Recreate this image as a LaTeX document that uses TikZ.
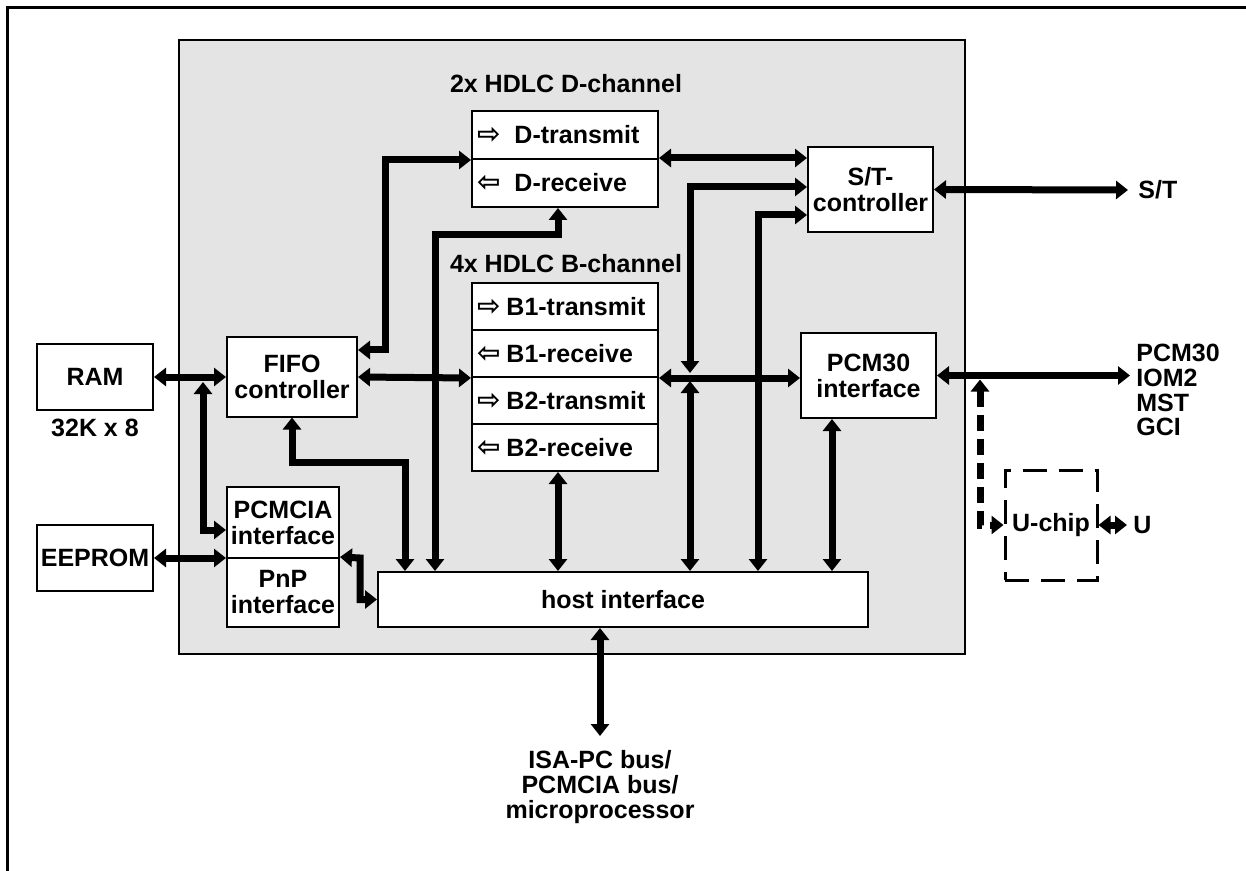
\documentclass[tikz,border=0pt]{standalone}
\usepackage{fontspec}
\setmainfont{Liberation Sans}
\newfontfamily\arrowfont{DejaVu Sans}
\usetikzlibrary{arrows.meta}
\definecolor{chip}{RGB}{228,228,228}
\newcommand{\txarrow}{{\arrowfont\fontsize{14}{13}\selectfont ⇨}\hspace{3pt}}
\newcommand{\rxarrow}{{\arrowfont\fontsize{14}{13}\selectfont ⇦}\hspace{3pt}}

\begin{document}
\begin{tikzpicture}[
    x=0.5pt, y=-0.5pt,
    every node/.style={font=\fontsize{12.5}{13}\selectfont\bfseries},
    block/.style={draw, line width=1pt, fill=white, align=center, inner sep=0pt},
    channel/.style={block, align=left, text width=88pt, inner xsep=2.5pt},
    txt/.style={inner sep=0pt},
    bus/.style={line width=3.5pt,
        {Triangle[width=9pt,length=6pt]}-{Triangle[width=9pt,length=6pt]}},
    dashbus/.style={bus, dash pattern=on 8pt off 4pt},
]
\useasboundingbox (0,0) rectangle (1246,871);

% frame and chip area
\draw[line width=1.5pt] (7,871) -- (7,8) -- (1246,8);
\draw[fill=chip, line width=0.8pt] (179,40) rectangle (965,654);

% memories outside the chip
\node[block, minimum width=58pt, minimum height=33pt] (ram) at (95,377) {RAM};
\node[txt] (ramsize) at (95,428) {32K x 8};
\node[block, minimum width=58pt, minimum height=33pt] (eeprom) at (95,558) {EEPROM};

% blocks on the left
\node[block, minimum width=65pt, minimum height=39.5pt] (fifo) at (292,377) {FIFO\\controller};
\node[block, minimum width=56pt, minimum height=35.5pt] (pcmcia) at (283,522.5) {PCMCIA\\interface};
\node[block, minimum width=56pt, minimum height=34.5pt] (pnp) at (283,592.5) {PnP\\interface};
\node[block, minimum width=245pt, minimum height=27.5pt] (host) at (623,599.5) {host interface};

% HDLC channels
\node[txt] (dtitle) at (566,84) {2x HDLC D-channel};
\node[channel, minimum height=24pt] (dtx) at (565,135) {\mbox{\txarrow\hspace{4pt}D-transmit}};
\node[channel, minimum height=24pt] (drx) at (565,183) {\mbox{\rxarrow\hspace{4pt}D-receive}};
\node[txt] (btitle) at (566,264) {4x HDLC B-channel};
\node[channel, minimum height=23.5pt] (b1tx) at (565,306.5) {\mbox{\txarrow B1-transmit}};
\node[channel, minimum height=23.5pt] (b1rx) at (565,353.5) {\mbox{\rxarrow B1-receive}};
\node[channel, minimum height=23.5pt] (b2tx) at (565,400.5) {\mbox{\txarrow B2-transmit}};
\node[channel, minimum height=23.5pt] (b2rx) at (565,447.5) {\mbox{\rxarrow B2-receive}};

% line side
\node[block, minimum width=62.5pt, minimum height=42.5pt] (stc) at (870.5,189.5) {S/T-\\controller};
\node[block, minimum width=67.5pt, minimum height=42.5pt] (pcm) at (868.5,375.5) {PCM30\\interface};
\node[block, fill=none, dash pattern=on 12pt off 6pt, line width=1.5pt,
      minimum width=46pt, minimum height=55pt] (uchip) at (1051,525) {U-chip};

% outside labels
\node[txt, anchor=west, inner xsep=5pt] (st) at (1128,190) {S/T};
\node[txt, anchor=north west, align=left, inner xsep=3pt,
      font=\fontsize{12.5}{12.3}\selectfont\bfseries] (pcmbus) at (1130,344) {PCM30\\IOM2\\MST\\GCI};
\node[txt, anchor=west, inner xsep=3pt] (u) at (1127,525) {U};
\node[txt, anchor=north, align=center, inner ysep=7pt,
      font=\fontsize{12.5}{12.5}\selectfont\bfseries] (isa) at (600,736)
      {ISA-PC bus/\\PCMCIA bus/\\microprocessor};

% junctions on the busses
\coordinate (ramj) at (203,378);
\coordinate (busj) at (690,377);
\coordinate (pcmj) at (980,375.5);

% memory and interface links
\draw[bus] (ram.east) -- (ram.east -| fifo.west);
\draw[bus, shorten <=2pt] (ramj) |- (pcmcia.west |- 0,530);
\draw[bus] (eeprom.east) -- (eeprom.east -| pnp.west);
\draw[bus] (pnp.north east) -- (360,558) |- (host.west);

% FIFO links
\draw[bus] (fifo.east |- 0,350) -- (385,350) |- (dtx.south west);
\draw[bus] (fifo.east) -- (b1rx.south west);
\draw[bus] (fifo.south) |- (405,462) -- (host.north -| 405,0);
\draw[bus] (host.north -| 435,0) |- (558,235) -- (drx.south -| 558,0);

% channel, S/T and PCM links
\draw[bus] (b2rx.south -| 558,0) -- (host.north -| 558,0);
\draw[bus] (b1rx.south east) -- (b1rx.south east -| pcm.west);
\draw[bus] (drx.north east) -- (drx.north east -| stc.west);
\draw[bus, shorten >=2pt] (stc.west |- 0,187) -| (busj);
\draw[bus, shorten <=2pt] (busj) -- (host.north -| busj);
\draw[bus] (stc.west |- 0,215) -| (host.north -| 758,0);
\draw[bus] (pcm.south -| 832,0) -- (host.north -| 832,0);

% external connections
\draw[bus] (stc.east) -- (st.west);
\draw[bus] (pcm.east) -- (pcm.east -| pcmbus.west);
\draw[dashbus, shorten <=2pt] (pcmj) |- (uchip.west);
\draw[bus] (uchip.east) -- (u.west);
\draw[bus] (host.south -| 600,0) -- (isa.north);

\end{tikzpicture}
\end{document}
